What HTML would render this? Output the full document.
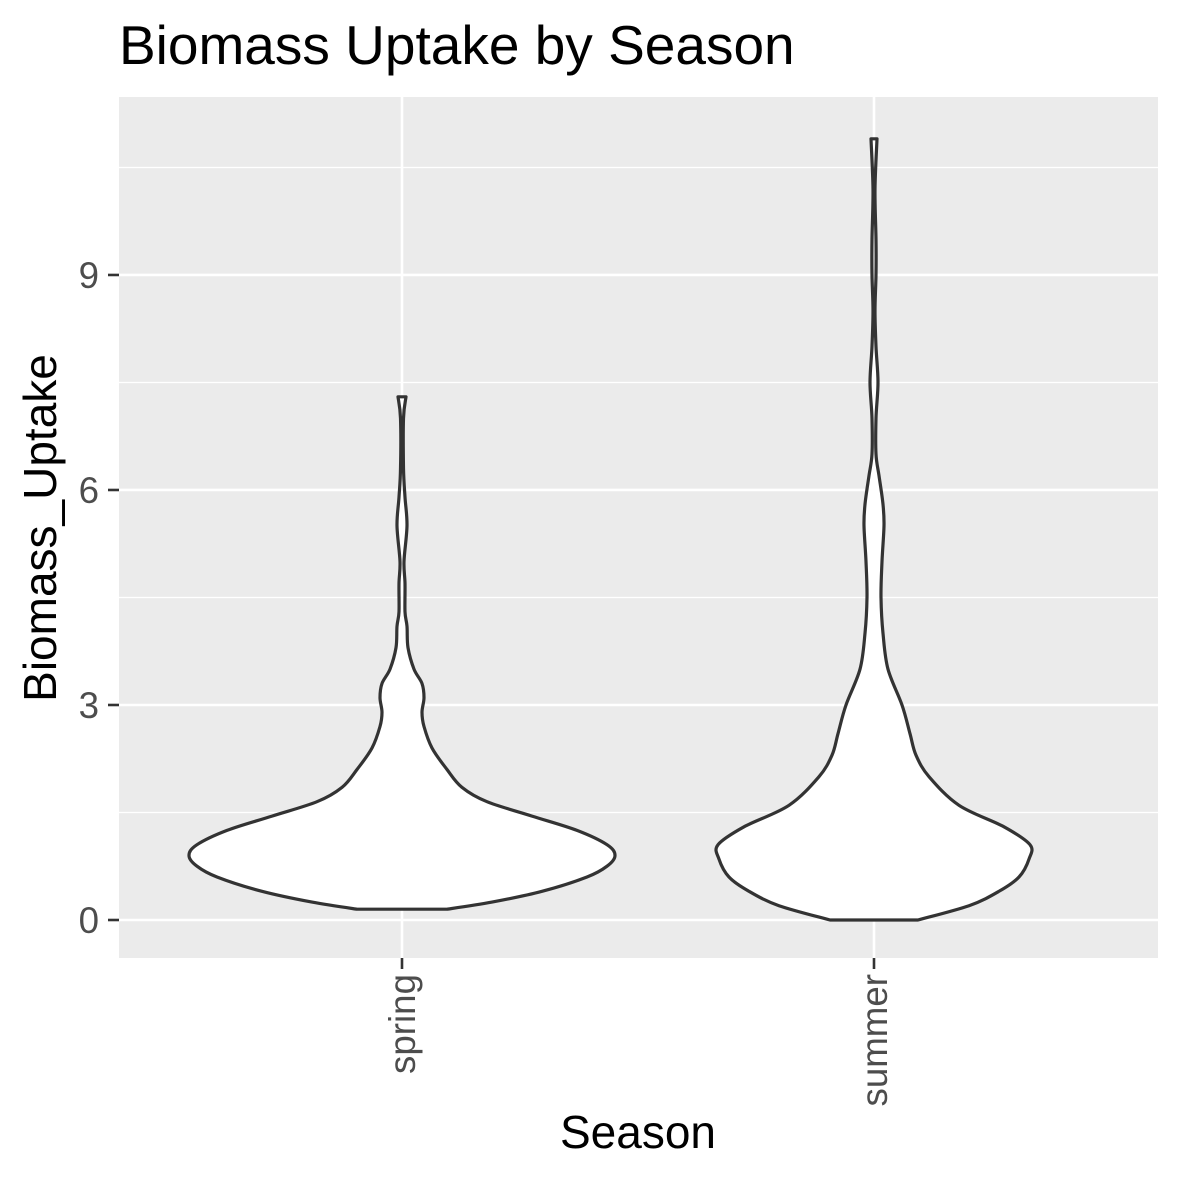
<!DOCTYPE html>
<html><head><meta charset="utf-8"><style>
body{margin:0;background:#fff}
svg{display:block;font-family:"Liberation Sans",sans-serif}
</style></head><body>
<svg width="1181" height="1181" viewBox="0 0 1181 1181">
<rect width="1181" height="1181" fill="#fff"/>
<text x="119" y="64" font-size="55" fill="#000">Biomass Uptake by Season</text>
<rect x="119" y="97" width="1039" height="861" fill="#ebebeb"/>
<g id="grid"></g>
<g id="violins"></g>
<g id="axes"></g>
<text transform="translate(56,528) rotate(-90)" text-anchor="middle" font-size="46" fill="#000">Biomass_Uptake</text>
<text x="638" y="1148" text-anchor="middle" font-size="46" fill="#000">Season</text>
</svg>
<script>
const categories = ["spring","summer"];
const yTicks = [0,3,6,9];
const yMinor = [1.5,4.5,7.5,10.5];
const springY = [0.15,0.25,0.4,0.6,0.75,0.9,1.05,1.25,1.45,1.65,1.85,2.1,2.4,2.7,2.9,3.1,3.3,3.5,3.8,4.1,4.3,4.7,5.0,5.5,5.9,6.3,7.0,7.3];
const springD = [45,90,140,185,205,213,205,175,130,85,60,45,30,22,20,22,20,12,6,5,3,3,2,5,3,1.5,1.5,4].map(v=>v/213);
const summerY = [0,0.2,0.4,0.6,0.85,1.05,1.3,1.6,2.0,2.3,2.6,3.0,3.5,4.0,4.5,5.0,5.5,5.8,6.2,6.5,7.0,7.5,8.0,8.5,9.0,9.5,10.2,10.9];
const summerD = [44,95,125,145,155,156,130,85,55,42,36,28,14,9,7,8,10,9,5,2,2,4,2,1,2,2,1,3].map(v=>v/213);
const series = [[springY,springD],[summerY,summerD]];

const NS="http://www.w3.org/2000/svg";
const yScale = v => 920 - v*71.67;
const xScale = i => 402 + i*472;
const wScale = d => d*213;
function mk(tag,attrs,parent){const e=document.createElementNS(NS,tag);for(const k in attrs)e.setAttribute(k,attrs[k]);parent.appendChild(e);return e;}
function smooth(pts){let d='M'+pts[0][0].toFixed(1)+','+pts[0][1].toFixed(1);
for(let i=0;i<pts.length-1;i++){const p0=pts[Math.max(0,i-1)],p1=pts[i],p2=pts[i+1],p3=pts[Math.min(pts.length-1,i+2)];
const c1=[p1[0]+(p2[0]-p0[0])/6,p1[1]+(p2[1]-p0[1])/6],c2=[p2[0]-(p3[0]-p1[0])/6,p2[1]-(p3[1]-p1[1])/6];
d+=` C${c1[0].toFixed(1)},${c1[1].toFixed(1)} ${c2[0].toFixed(1)},${c2[1].toFixed(1)} ${p2[0].toFixed(1)},${p2[1].toFixed(1)}`;}
return d;}
const grid=document.getElementById('grid'), vg=document.getElementById('violins'), ax=document.getElementById('axes');
yMinor.forEach(v=>{const l=mk('line',{x1:119,x2:1158,y1:yScale(v),y2:yScale(v),stroke:'#fff','stroke-width':1.3},grid);

});
yTicks.forEach(v=>{const l=mk('line',{x1:119,x2:1158,y1:yScale(v),y2:yScale(v),stroke:'#fff','stroke-width':2.6},grid);


const t=mk('line',{x1:108,x2:119,y1:yScale(v),y2:yScale(v),stroke:'#333','stroke-width':2.6},ax);


const tx=mk('text',{x:99,y:yScale(v)+13,'text-anchor':'end','font-size':36.7,fill:'#4d4d4d'},ax);tx.textContent=v;

});
categories.forEach((c,i)=>{const x=xScale(i);
const l=mk('line',{x1:x,x2:x,y1:97,y2:958,stroke:'#fff','stroke-width':2.6},grid);


const t=mk('line',{x1:x,x2:x,y1:958,y2:969,stroke:'#333','stroke-width':2.6},ax);


const tx=mk('text',{transform:`translate(${x+13},974) rotate(-90)`,'text-anchor':'end','font-size':36.7,fill:'#4d4d4d'},ax);tx.textContent=c;


const [ys,ds]=series[i];
const right=ys.map((y,k)=>[x+wScale(ds[k]),yScale(y)]);
const left=ys.map((y,k)=>[x-wScale(ds[k]),yScale(y)]).reverse();
let d=smooth(right)+' L'+left[0][0].toFixed(1)+','+left[0][1].toFixed(1)+smooth(left).replace(/^M[^ ]+/,'')+' Z';
const p=mk('path',{d:d,fill:'#fff',stroke:'#333','stroke-width':3.2,'stroke-linejoin':'round'},vg);


});
</script>
</body></html>
